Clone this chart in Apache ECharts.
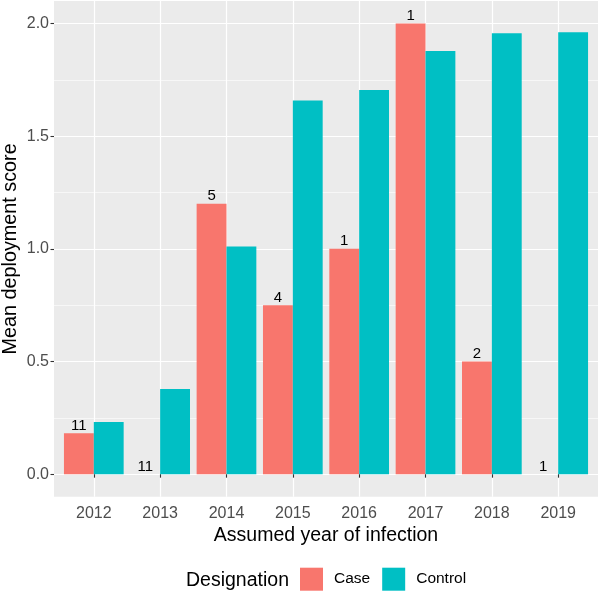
<!DOCTYPE html>
<html>
<head>
<meta charset="utf-8">
<script src="https://cdn.jsdelivr.net/npm/echarts@6/dist/echarts.min.js"></script>
<style>html,body{margin:0;padding:0;background:#fff}#c{width:598px;height:593px}</style>
</head>
<body>
<div id="c"></div>
<script>
const years = ['2012','2013','2014','2015','2016','2017','2018','2019'];
const caseValues = [0.182, 0, 1.20, 0.75, 1.00, 2.00, 0.50, 0];
const controlValues = [0.231, 0.378, 1.01, 1.658, 1.705, 1.878, 1.957, 1.961];
const caseCounts = ['11','11','5','4','1','1','2','1'];
const yMajorTicks = [0, 0.5, 1.0, 1.5, 2.0];
const yMinorTicks = [0.25, 0.75, 1.25, 1.75];

const FONT = 'Liberation Sans, Arial, Helvetica, sans-serif';
const xPos = years.map((y, i) => i + 1);

const chart = echarts.init(document.getElementById('c'), null, {renderer: 'canvas'});
chart.setOption({
  animation: false,
  backgroundColor: '#ffffff',
  textStyle: {fontFamily: FONT},
  title: {
    text: 'Designation', left: 186, top: 571, padding: 0,
    textStyle: {fontFamily: FONT, fontSize: 19.5, fontWeight: 'normal', color: '#000'}
  },
  legend: {
    left: 300, top: 567.7, itemWidth: 23, itemHeight: 23, itemGap: 12, padding: 0,
    icon: 'rect',
    textStyle: {fontFamily: FONT, fontSize: 15.5, color: '#000', padding: [0, 0, 0, 6]},
    data: ['Case', 'Control']
  },
  grid: {
    left: 54, top: 1, right: 0, bottom: 96.3,
    containLabel: false, outerBoundsMode: 'none',
    show: true, backgroundColor: '#EBEBEB', borderWidth: 0
  },
  xAxis: {
    type: 'value', min: 0.4, max: 8.6,
    name: 'Assumed year of infection', nameLocation: 'middle', nameGap: 25,
    nameTextStyle: {fontFamily: FONT, fontSize: 19.5, color: '#000'},
    axisLine: {show: false},
    axisTick: {show: true, customValues: xPos, length: 3.5, lineStyle: {color: '#333', width: 1.1}},
    axisLabel: {
      customValues: xPos, margin: 8.5, fontFamily: FONT, fontSize: 16, color: '#4D4D4D',
      formatter: v => years[Math.round(v) - 1] || ''
    },
    splitLine: {show: true, lineStyle: {color: '#fff', width: 1.2}}
  },
  yAxis: [{
    type: 'value', min: -0.1, max: 2.1,
    name: 'Mean deployment score', nameLocation: 'middle', nameGap: 33,
    nameMoveOverlap: false,
    nameTextStyle: {fontFamily: FONT, fontSize: 19.8, color: '#000'},
    axisLine: {show: false},
    axisTick: {show: true, customValues: yMajorTicks, length: 3.5, lineStyle: {color: '#333', width: 1.1}},
    axisLabel: {
      customValues: yMajorTicks, margin: 5, fontFamily: FONT, fontSize: 16, color: '#4D4D4D',
      formatter: v => v.toFixed(1)
    },
    splitLine: {show: true, lineStyle: {color: '#fff', width: 1.2}}
  }, {
    type: 'value', min: -0.1, max: 2.1, position: 'left',
    axisLine: {show: false},
    axisTick: {show: false, customValues: yMinorTicks},
    axisLabel: {show: false, customValues: yMinorTicks},
    splitLine: {show: true, lineStyle: {color: '#fff', width: 0.6}}
  }],
  series: [{
    name: 'Case', type: 'bar', barWidth: '45%', barGap: '0%',
    itemStyle: {color: '#F8766D'},
    data: caseValues.map((v, i) => [xPos[i], v]),
    label: {
      show: true, position: 'top', distance: 0,
      fontFamily: FONT, fontSize: 15, color: '#000',
      formatter: p => caseCounts[p.dataIndex]
    },
    z: 3
  }, {
    name: 'Control', type: 'bar', barWidth: '45%', barGap: '0%',
    itemStyle: {color: '#00BFC4'},
    data: controlValues.map((v, i) => [xPos[i], v]),
    z: 3
  }]
});
</script>
</body>
</html>
